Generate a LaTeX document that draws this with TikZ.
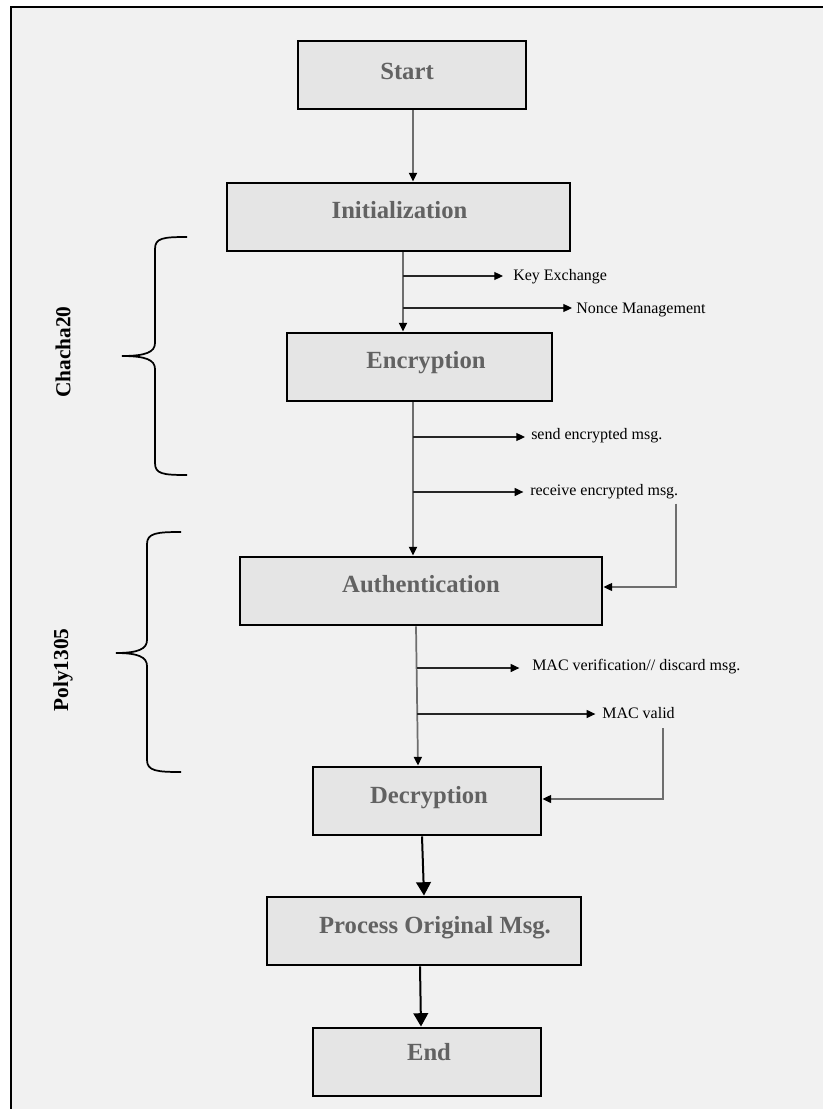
\documentclass[tikz,border=0pt]{standalone}
\usepackage{fontspec}
\setmainfont{Liberation Serif}
\usetikzlibrary{arrows.meta,calc}
\definecolor{bgc}{HTML}{F1F1F1}
\definecolor{boxc}{HTML}{E5E5E5}
\definecolor{txtc}{HTML}{626262}
\definecolor{linec}{HTML}{6E6E6E}
\begin{document}
\begin{tikzpicture}[x=0.75pt,y=-0.75pt,
  box/.style={draw=black, line width=2.2pt, fill=boxc, minimum height=51pt, inner sep=0pt},
  boxtxt/.style={font=\bfseries\fontsize{18.5}{20}\selectfont, text=txtc, inner sep=0pt, anchor=base},
  lbl/.style={font=\fontsize{12}{14}\selectfont, inner sep=0pt, anchor=base west},
  trunk/.style={draw=linec, line width=1.3pt, -{Triangle[length=6.5pt,width=6pt,color=black]}},
  br/.style={draw=black!85, line width=0.8pt, -{Triangle[length=6.5pt,width=6pt,color=black]}},
  fb/.style={draw=linec, line width=0.9pt, -{Triangle[length=6.5pt,width=6pt,color=black]}},
  big/.style={draw=black, line width=1.5pt, -{Triangle[length=10pt,width=11pt]}},
  bracepath/.style={draw=black, line width=1.3pt},
  side/.style={font=\bfseries\fontsize{16}{18}\selectfont, rotate=90, inner sep=0pt}]
\useasboundingbox (0,0) rectangle (823,1109);
\fill[white] (0,0) rectangle (823,1109);
\fill[bgc] (11,7) rectangle (823,1109);
\draw[line width=1.6pt] (11,1109) -- (11,7) -- (823,7);

% boxes
\node[box, minimum width=171pt] (start) at (412,75) {};
\node[box, minimum width=257.25pt] (init) at (398.5,217) {};
\node[box, minimum width=198.75pt] (enc) at (419.5,367) {};
\node[box, minimum width=271.5pt] (auth) at (421,591) {};
\node[box, minimum width=171pt] (dec) at (427,801) {};
\node[box, minimum width=235.5pt] (proc) at (424,931) {};
\node[box, minimum width=171pt] (end) at (427,1062) {};

\node[boxtxt] (startT) at (407,80) {Start};
\node[boxtxt] (initT) at (399.5,219) {Initialization};
\node[boxtxt] (encT) at (426,368) {Encryption};
\node[boxtxt] (authT) at (421,592) {Authentication};
\node[boxtxt] (decT) at (429,803) {Decryption};
\node[boxtxt] (procT) at (435,933) {Process Original Msg.};
\node[boxtxt] (endT) at (429,1060) {End};

% labels
\node[lbl] (kx) at (513,280) {Key Exchange};
\node[lbl] (nm) at (576,313) {Nonce Management};
\node[lbl] (sem) at (531,439) {send encrypted msg.};
\node[lbl] (rem) at (530,495) {receive encrypted msg.};
\node[lbl] (macv) at (532,670) {MAC verification// discard msg.};
\node[lbl] (macok) at (602,718) {MAC valid};

% trunk coordinates
\coordinate (t1) at (413,0);
\coordinate (t2) at (403,0);
\coordinate (t3) at (413,0);
\coordinate (t4a) at (416,0);
\coordinate (t4b) at (418,0);
\coordinate (b1) at (403,276);
\coordinate (b2) at (403,308);
\coordinate (b3) at (413,437);
\coordinate (b4) at (413,492);
\coordinate (b5) at (417,668);
\coordinate (b6) at (417,714);
\coordinate (f1) at (676,0);
\coordinate (f2) at (663,0);

% main flow
\draw[trunk] (start.south -| t1) -- (init.north -| t1);
\draw[trunk] (init.south -| t2) -- (enc.north -| t2);
\draw[trunk] (enc.south -| t3) -- (auth.north -| t3);
\draw[trunk] (auth.south -| t4a) -- (dec.north -| t4b);
\draw[big] ($(dec.south)+(-5,0)$) -- ($(proc.north)+(0,0)$);
\draw[big] ($(proc.south)+(-4,0)$) -- ($(end.north)+(-6,0)$);

% branches
\draw[br, shorten >=7.5pt] (b1) -- (b1 -| kx.west);
\draw[br, shorten >=3pt] (b2) -- (b2 -| nm.west);
\draw[br, shorten >=4.5pt] (b3) -- (b3 -| sem.west);
\draw[br, shorten >=5pt] (b4) -- (b4 -| rem.west);
\draw[br, shorten >=9.5pt] (b5) -- (b5 -| macv.west);
\draw[br, shorten >=5pt] (b6) -- (b6 -| macok.west);

% feedback
\draw[fb] ($(rem.south -| f1)+(0,5)$) |- ($(auth.east)+(0,-4)$);
\draw[fb] ($(macok.south -| f2)+(0,10)$) |- ($(dec.east)+(0,-2)$);

% braces
\draw[bracepath] (187,237) .. controls (163,237) and (155,238) .. (155,249) -- (155,343)
  .. controls (155,352) and (146,356) .. (122,356)
  .. controls (146,356) and (155,360) .. (155,369) -- (155,463)
  .. controls (155,474) and (163,475) .. (187,475);
\draw[bracepath] (181,532) .. controls (157,532) and (147,533) .. (147,544) -- (147,640)
  .. controls (147,649) and (138,653) .. (116,653)
  .. controls (138,653) and (147,657) .. (147,666) -- (147,760)
  .. controls (147,771) and (157,772) .. (181,772);
\node[side] (cha) at (63,352) {Chacha20};
\node[side] (poly) at (63,670) {Poly1305};
\end{tikzpicture}
\end{document}
